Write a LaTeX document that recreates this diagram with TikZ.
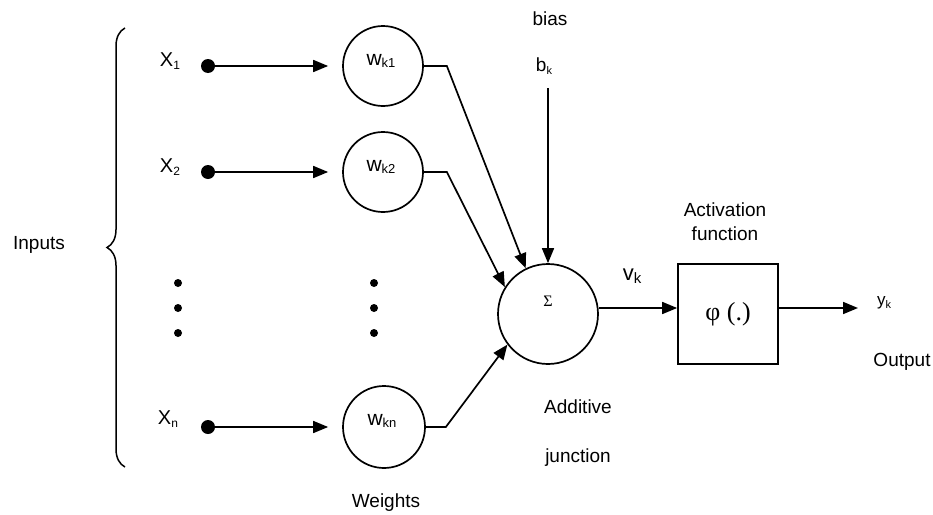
\documentclass[tikz,border=0pt]{standalone}
\usepackage{fontspec}
\setmainfont{Liberation Sans}
\newfontfamily\seriffont{Liberation Serif}
\usetikzlibrary{arrows.meta,decorations.pathreplacing}
\newcommand{\sz}[1]{\fontsize{#1}{#1}\selectfont}
\newcommand{\subl}[4]{{\sz{#1}#2}\raisebox{-2.5pt}{\sz{#3}#4}}
\begin{document}
\begin{tikzpicture}[x=1pt,y=-1pt,
  lw/.style={line width=1.7pt},
  arr/.style={lw,-{Triangle[length=15pt,width=12pt]}},
  wcirc/.style={circle,draw,lw,minimum size=80pt,inner sep=0pt},
  lbl/.style={inner sep=0pt,font=\sz{19}},
  bigdot/.style={circle,fill,minimum size=14pt,inner sep=0pt},
  smalldot/.style={circle,fill,minimum size=8pt,inner sep=0pt}]
\useasboundingbox (0,0) rectangle (933,514);

% inputs and brace
\node[lbl] (inputs) at (39,245) {Inputs};
\draw[line width=1.5pt,decorate,decoration={brace,amplitude=18pt}] (125,467) -- (125,28);

% input labels
\node[inner sep=0pt] (x1) at (170,61) {\subl{20}{X}{12}{1}};
\node[inner sep=0pt] (x2) at (170,167) {\subl{20}{X}{12}{2}};
\node[inner sep=0pt] (xn) at (168,419) {\subl{20}{X}{12}{n}};

% input dots
\node[bigdot] (d1) at (208,66) {};
\node[bigdot] (d2) at (208,172) {};
\node[bigdot] (dn) at (208,427) {};

% ellipsis dots
\node[smalldot] (e1) at (178,283) {};
\node[smalldot] (e2) at (178,308) {};
\node[smalldot] (e3) at (178,333) {};
\node[smalldot] (f1) at (374,283) {};
\node[smalldot] (f2) at (374,308) {};
\node[smalldot] (f3) at (374,333) {};

% weight circles
\node[wcirc] (wk1) at (383,66) {};
\node[wcirc] (wk2) at (383,172) {};
\node[wcirc,minimum size=82pt] (wkn) at (384,427) {};
\node[inner sep=0pt] (lw1) at (381,61) {\subl{21}{w}{13}{k1}};
\node[inner sep=0pt] (lw2) at (381,167) {\subl{21}{w}{13}{k2}};
\node[inner sep=0pt] (lwn) at (382,421) {\subl{21}{w}{13}{kn}};
\node[lbl] (weights) at (386,503) {Weights};

% input arrows
\draw[arr,shorten >=14pt] (d1.center) -- (wk1.west);
\draw[arr,shorten >=14pt] (d2.center) -- (wk2.west);
\draw[arr,shorten >=14pt] (dn.center) -- (wkn.west);

% summing junction
\node[circle,draw,lw,minimum size=100pt,inner sep=0pt] (sig) at (548,314) {};
\node[inner sep=0pt,font=\seriffont\sz{16}] (sigma) at (548,301) {Σ};
\node[lbl] (add) at (578,407) {Additive};
\node[lbl] (junc) at (578,458) {junction};

% bias
\node[lbl] (bias) at (550,19) {bias};
\node[inner sep=0pt] (bk) at (544,66) {\subl{19}{b}{11}{k}};
\coordinate (bstart) at (548,88);
\draw[arr] (bstart) -- (sig.north);

% weight connectors
\draw[arr] (wk1.east) -- ++(23,0) -- (sig.116);
\draw[arr] (wk2.east) -- ++(23,0) -- (sig.148);
\draw[arr] (wkn.east) -- ++(20,0) -- (sig.217);

% activation
\node[draw,lw,minimum size=100pt,inner sep=0pt,font=\seriffont\sz{26}] (phi) at (728,314) {φ (.)};
\node[lbl] (act) at (725,210) {Activation};
\node[lbl] (func) at (725,234) {function};
\node[inner sep=0pt] (vk) at (632,276) {\subl{22}{v}{15}{k}};
\draw[arr] ([yshift=6pt]sig.east) -- ([yshift=6pt]phi.west);

% output
\coordinate (yout) at (858,308);
\draw[arr] ([yshift=6pt]phi.east) -- (yout);
\node[inner sep=0pt] (yk) at (884,303) {\subl{17}{y}{11}{k}};
\node[lbl] (output) at (902,362) {Output};
\end{tikzpicture}
\end{document}
